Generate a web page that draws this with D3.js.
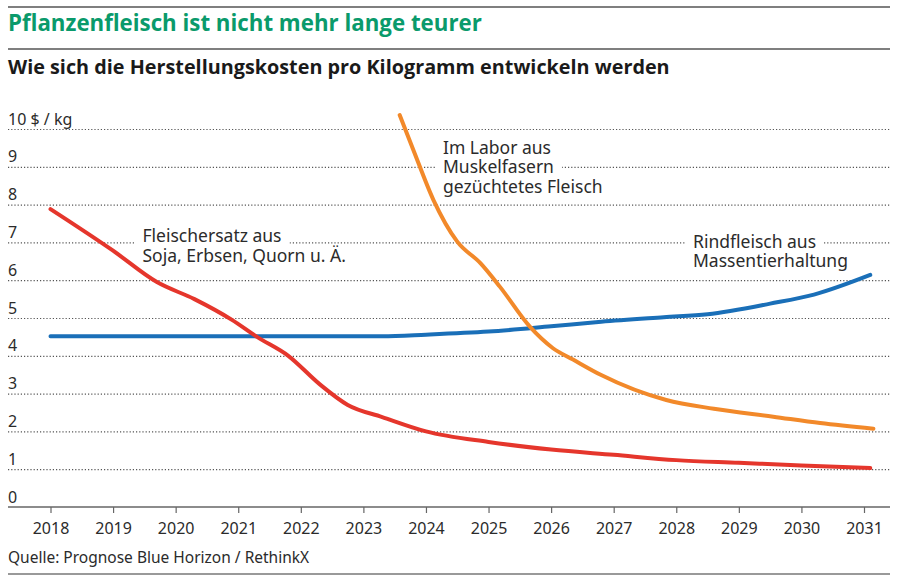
<!DOCTYPE html>
<html>
  <head>
    <meta charset="utf-8">
    <title>Pflanzenfleisch</title>
    <script src="https://cdn.jsdelivr.net/npm/d3@7"></script>
    <style>
      body { margin: 0; background: #fff; }
      text { font-family: "Noto Sans", "Open Sans", sans-serif; fill: #2b2b2b; }
    </style>
  </head>
  <body>
    <script>
     // data
     let yTicks = [0, 1, 2, 3, 4, 5, 6, 7, 8, 9, 10];
     let xTicks = [2018, 2019, 2020, 2021, 2022, 2023, 2024, 2025, 2026, 2027, 2028, 2029, 2030, 2031];

     let plantYears  = [2018, 2019, 2019.7, 2020.3, 2020.9, 2021.3, 2021.8, 2022.3, 2022.75, 2023.3, 2024, 2025, 2026, 2027, 2028, 2029, 2030, 2031.1];
     let plantValues = [7.88, 6.78, 5.95, 5.5, 4.95, 4.5, 4.0, 3.25, 2.7, 2.38, 2.0, 1.72, 1.52, 1.38, 1.24, 1.17, 1.1, 1.03];

     let beefYears  = [2018, 2023.3, 2024, 2025, 2026, 2026.8, 2027.8, 2028.5, 2029.5, 2030.2, 2031.1];
     let beefValues = [4.52, 4.52, 4.56, 4.64, 4.78, 4.9, 5.02, 5.1, 5.38, 5.62, 6.14];

     let labYears  = [2023.58, 2023.8, 2024.12, 2024.5, 2024.87, 2025.18, 2025.66, 2026.03, 2026.35, 2026.8, 2027.84, 2028.6, 2029.55, 2030.3, 2031.15];
     let labValues = [10.37, 9.44, 8.12, 7.02, 6.45, 5.83, 4.77, 4.2, 3.9, 3.49, 2.83, 2.6, 2.39, 2.22, 2.07];

     let w = 900, h = 584;
     let left = 8, right = 890;

     let svg = d3.select("body").append("svg")
                 .attr("width", w)
                 .attr("height", h)
                 .style("display", "block");

     // fit a header text to the width it has in the picture
     function fitText(sel, target) {
       let size = parseFloat(sel.style("font-size"));
       let len = sel.node().getComputedTextLength();
       sel.style("font-size", (size * target / len) + "px");
     }

     // header
     svg.append("line").attr("x1", left).attr("x2", right).attr("y1", 7).attr("y2", 7)
        .attr("stroke", "#555").attr("stroke-width", 1.5);
     let title = svg.append("text").attr("x", left).attr("y", 31)
        .style("font-family", "'Open Sans', sans-serif").style("font-weight", 700).style("font-size", "21px")
        .style("fill", "#0a9a6b")
        .text("Pflanzenfleisch ist nicht mehr lange teurer");
     fitText(title, 474);
     svg.append("line").attr("x1", left).attr("x2", right).attr("y1", 49).attr("y2", 49)
        .attr("stroke", "#555").attr("stroke-width", 1.5);
     let subtitle = svg.append("text").attr("x", left).attr("y", 74)
        .style("font-family", "'Open Sans', sans-serif").style("font-weight", 700).style("font-size", "17px")
        .style("fill", "#1a1a1a")
        .text("Wie sich die Herstellungskosten pro Kilogramm entwickeln werden");
     fitText(subtitle, 662);

     // scales
     let xScale = d3.scaleLinear().domain([2018, 2031]).range([50.5, 864]);
     let yScale = d3.scaleLinear().domain([0, 10]).range([507, 129]);

     // gridlines + y labels
     let yAxis = d3.axisRight(yScale)
                   .tickValues(yTicks)
                   .tickSize(right - left)
                   .tickFormat((d) => d === 10 ? "10 $ / kg" : d);
     let gy = svg.append("g")
                 .attr("transform", "translate(" + left + ", 0)")
                 .call(yAxis);
     gy.select(".domain").remove();
     gy.selectAll(".tick line")
       .attr("stroke", "#555")
       .attr("stroke-width", 1.2)
       .attr("stroke-dasharray", "1.2,2")
       .filter((d) => d === 0).remove();
     gy.selectAll(".tick text")
       .attr("x", 0)
       .attr("dy", -5)
       .attr("text-anchor", "start")
       .style("font-size", "16px")
       .style("font-family", "'Noto Sans', sans-serif")
       .attr("fill", "#2b2b2b");

     // x axis
     let xAxis = d3.axisBottom(xScale)
                   .tickValues(xTicks)
                   .tickSize(6)
                   .tickSizeOuter(0)
                   .tickFormat(d3.format("d"));
     let gx = svg.append("g")
                 .attr("transform", "translate(0, " + yScale(0) + ")")
                 .call(xAxis);
     gx.select(".domain")
       .attr("d", "M" + left + ",0H" + right)
       .attr("stroke", "#666").attr("stroke-width", 1.5);
     gx.selectAll(".tick line").attr("stroke", "#666").attr("stroke-width", 1.2);
     gx.selectAll(".tick text")
       .attr("dy", "1.1em")
       .style("font-size", "16px")
       .style("font-family", "'Noto Sans', sans-serif")
       .attr("fill", "#2b2b2b");

     // labels, white knockout behind each line (drawn before the curves)
     let lineGap = 19.5;
     let labels = [
       {x: 142.5, y: 242, lines: ["Fleischersatz aus", "Soja, Erbsen, Quorn u. Ä."]},
       {x: 443, y: 153.5, lines: ["Im Labor aus", "Muskelfasern", "gezüchtetes Fleisch"]},
       {x: 693, y: 247.5, lines: ["Rindfleisch aus", "Massentierhaltung"]}
     ];
     labels.forEach((l) => {
       let g = svg.append("g");
       let bgs = g.append("g");
       let txt = g.append("text")
                  .attr("x", l.x)
                  .attr("y", l.y)
                  .style("font-size", "17.5px");
       l.lines.forEach((t, i) => {
         let ts = txt.append("tspan")
                     .attr("x", l.x)
                     .attr("y", l.y + i * lineGap)
                     .text(t);
         let len = ts.node().getComputedTextLength();
         bgs.append("rect").attr("fill", "#fff")
            .attr("x", l.x - 8).attr("y", l.y + i * lineGap - 14)
            .attr("width", len + 16).attr("height", 17);
       });
     });

     // lines
     let line = d3.line()
                  .x((d) => xScale(d[0]))
                  .y((d) => yScale(d[1]))
                  .curve(d3.curveMonotoneX);

     let series = [
       {years: beefYears, values: beefValues, color: "#1a6fb8"},
       {years: labYears, values: labValues, color: "#f2892a"},
       {years: plantYears, values: plantValues, color: "#e5362c"}
     ];
     series.forEach((s) => {
       svg.append("path")
          .datum(d3.zip(s.years, s.values))
          .attr("d", line)
          .attr("fill", "none")
          .attr("stroke", s.color)
          .attr("stroke-width", 4)
          .attr("stroke-linecap", "round")
          .attr("stroke-linejoin", "round");
     });

     // footer
     svg.append("text").attr("x", left).attr("y", 563)
        .style("font-size", "15.5px")
        .text("Quelle: Prognose Blue Horizon / RethinkX");
     svg.append("line").attr("x1", left).attr("x2", right).attr("y1", 574).attr("y2", 574)
        .attr("stroke", "#777").attr("stroke-width", 1.5);
    </script>
  </body>
</html>
